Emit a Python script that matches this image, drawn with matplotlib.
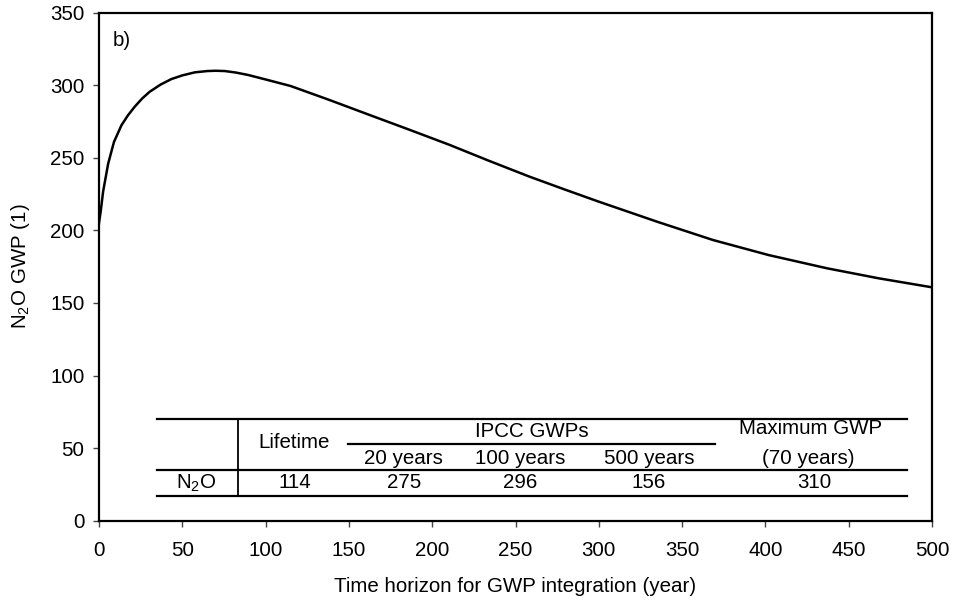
import matplotlib
matplotlib.use("Agg")
import matplotlib.pyplot as plt

plt.rcParams["font.family"] = ["Liberation Sans", "DejaVu Sans"]
plt.rcParams["mathtext.fontset"] = "custom"
plt.rcParams["mathtext.rm"] = "Liberation Sans"
plt.rcParams["mathtext.it"] = "Liberation Sans:italic"

# courbe GWP du N2O
horizon = [0, 1, 2.5, 5.5, 9, 13.5, 17.5, 21.5, 26, 30.5, 37, 43.5, 50, 57.5, 65, 70,
           75.5, 82, 89.5, 100, 115, 138, 162.5, 186, 210.5, 234, 258.5, 280, 300,
           335, 368.5, 402, 437, 468, 500]
gwp = [205, 213, 227, 246, 261, 272.5, 279.5, 285.3, 291, 295.6, 300.5, 304.3, 306.8,
       308.9, 309.8, 310, 309.8, 308.8, 307.1, 304, 299.5, 290, 279.5, 269.5, 258.9,
       248, 237, 228, 219.8, 206, 193.4, 183, 173.9, 167, 160.8]

# tableau
row_label = r"N$_2$O"
lifetime = "114"
ipcc_horizons = ["20 years", "100 years", "500 years"]
ipcc_values = ["275", "296", "156"]
max_gwp = "310"
max_gwp_year = "(70 years)"

fs = 14.8

fig = plt.figure(figsize=(9.57, 6.04), dpi=100)
ax = fig.add_axes([99 / 957, (604 - 520.7) / 604, 833 / 957, 508 / 604])

ax.plot(horizon, gwp, color="black", lw=1.8, solid_joinstyle="round")

ax.set_xlim(0, 500)
ax.set_ylim(0, 350)
ax.set_xticks(range(0, 501, 50))
ax.set_yticks(range(0, 351, 50))
ax.tick_params(direction="out", length=4.5, width=1, labelsize=fs, color="#444444")
ax.tick_params(axis="x", pad=10)
ax.tick_params(axis="y", pad=6)
for sp in ax.spines.values():
    sp.set_linewidth(1.6)

ax.set_xlabel("Time horizon for GWP integration (year)", fontsize=fs)
ax.set_ylabel(r"N$_2$O GWP (1)", fontsize=fs)
ax.xaxis.set_label_coords(0.5, -0.111)
ax.yaxis.set_label_coords(-0.080, 0.5)

ax.text(8, 331, "b)", fontsize=fs, va="center", ha="left")

# --- tableau dans le graphique ---
lw_t = 1.6
ax.plot([35, 485], [70.1, 70.1], color="black", lw=lw_t)
ax.plot([35, 485], [34.9, 34.9], color="black", lw=lw_t)
ax.plot([35, 485], [17.0, 17.0], color="black", lw=lw_t)
ax.plot([149.6, 369.7], [52.8, 52.8], color="black", lw=lw_t)
ax.plot([83.2, 83.2], [17.0, 70.1], color="black", lw=1.3)

ax.text(117, 53.6, "Lifetime", fontsize=fs, ha="center", va="center")
ax.text(260, 61.5, "IPCC GWPs", fontsize=fs, ha="center", va="center")
for xpos, h in zip([183, 253, 330], ipcc_horizons):
    ax.text(xpos, 43, h, fontsize=fs, ha="center", va="center")
ax.text(427, 63.8, "Maximum GWP", fontsize=fs, ha="center", va="center")
ax.text(426, 43, max_gwp_year, fontsize=fs, ha="center", va="center")

ax.text(58.6, 26, row_label, fontsize=fs, ha="center", va="center")
ax.text(117.6, 26, lifetime, fontsize=fs, ha="center", va="center")
for xpos, v in zip([183, 253, 330], ipcc_values):
    ax.text(xpos, 26, v, fontsize=fs, ha="center", va="center")
ax.text(429.6, 26, max_gwp, fontsize=fs, ha="center", va="center")

fig.savefig("out.png", dpi=100)
